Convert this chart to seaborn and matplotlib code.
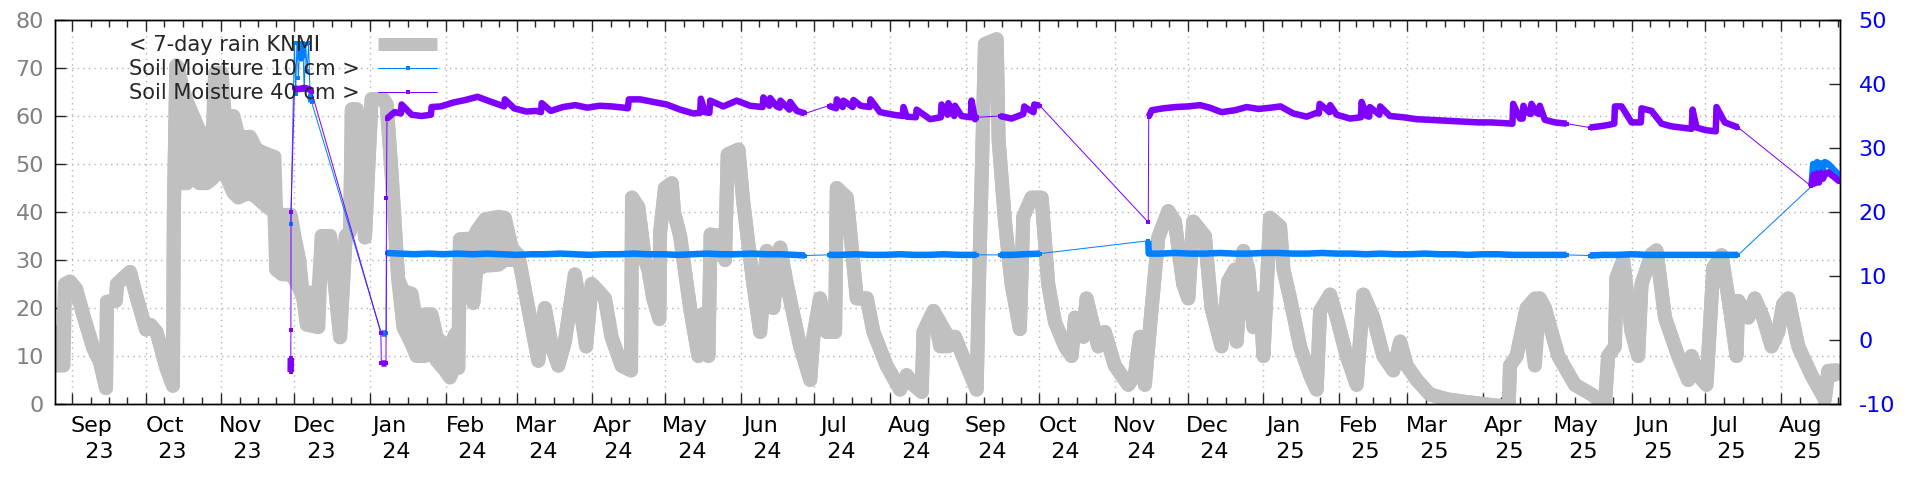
import numpy as np
import pandas as pd
import matplotlib
matplotlib.use("Agg")
import matplotlib.pyplot as plt
import matplotlib.dates as mdates
import matplotlib.transforms as mtrans
from matplotlib.lines import Line2D
from matplotlib.ticker import FixedLocator
import seaborn as sns

sns.set_style("white")
plt.rcParams["font.family"] = ["DejaVu Sans"]

# ---------------- data (day offsets are days after 2023-09-01) ----------------
ORIGIN = "2023-09-01"
X_START_DAY, X_END_DAY = -7.1, 724.2

# 7-day rain sum: upper value and (where the trace swings) lower value per vertex
rain_day = [-7.1, -3.6, -3.0, -1.0, 1.5, 4.5, 8.6, 11.3, 13.8, 14.2, 17.8, 18.3, 21.5, 23.6, 26.5, 30.2,
            32.0, 34.5, 38.6, 41.2, 41.6, 42.6, 43.5, 45.0, 47.0, 49.5, 52.0, 55.0, 57.5, 58.4, 61.2, 62.5,
            66.0, 68.0, 70.0, 72.8, 75.5, 80.0, 82.8, 83.5, 86.0, 89.5, 91.0, 93.0, 94.6, 96.0, 100.8, 102.2,
            105.6, 109.7, 112.0, 113.8, 114.5, 116.5, 119.9, 122.6, 127.4, 128.8, 130.8, 133.5, 135.6, 139.0,
            141.0, 144.5, 147.2, 149.3, 152.7, 154.7, 156.8, 158.2, 158.8, 163.2, 164.3, 165.6, 169.1, 174.5,
            177.2, 180.0, 182.7, 186.8, 190.9, 193.6, 196.4, 199.1, 201.8, 205.9, 208.7, 210.5, 212.8, 218.2,
            220.9, 225.0, 228.9, 229.3, 231.9, 234.6, 236.0, 238.0, 240.5, 240.8, 242.8, 245.6, 246.5, 249.0,
            253.1, 256.5, 258.2, 260.6, 261.5, 265.4, 267.4, 268.5, 272.9, 274.9, 279.0, 281.8, 284.5, 287.2,
            290.0, 292.7, 298.2, 302.3, 303.6, 306.3, 309.1, 312.5, 313.2, 317.3, 321.4, 325.5, 328.2, 333.6,
            339.1, 341.8, 344.6, 348.0, 348.7, 352.8, 355.5, 358.9, 361.6, 366.4, 370.5, 371.2, 373.9, 378.7,
            379.5, 382.1, 384.8, 388.2, 389.6, 393.0, 397.1, 399.8, 402.6, 406.7, 409.4, 410.8, 414.2, 415.5,
            420.3, 423.0, 427.1, 432.6, 435.3, 437.4, 439.4, 442.2, 444.9, 449.0, 451.7, 455.1, 457.2, 459.2,
            464.0, 466.7, 470.8, 473.6, 476.3, 477.0, 479.8, 481.8, 483.9, 486.6, 488.0, 490.7, 494.8, 496.2,
            498.9, 503.0, 507.1, 509.8, 511.2, 515.3, 518.0, 522.1, 526.2, 528.9, 533.0, 537.1, 541.2, 544.0,
            546.7, 550.8, 556.2, 563.1, 569.9, 578.1, 586.3, 588.5, 589.0, 591.7, 595.8, 599.2, 601.2, 603.3,
            608.8, 615.6, 622.4, 627.9, 629.2, 632.0, 632.6, 635.4, 638.8, 641.5, 642.9, 647.0, 649.0, 652.5,
            657.9, 662.0, 663.4, 666.1, 669.5, 672.3, 675.7, 679.1, 681.8, 682.5, 686.6, 689.3, 692.7, 696.2,
            698.9, 700.9, 703.0, 707.1, 712.5, 718.0, 719.4, 722.8, 724.2]
rain_hi = [15, 15, 25, 25.5, 24, 18.5, 11.6, 8.8, 3.3, 21.3, 21.5, 25, 26.5, 27.5, 22, 15.5,
           16.5, 15, 7.4, 3.8, 40, 70.5, 70, 66, 63, 60, 57, 56, 56, 69, 69, 60,
           60, 56, 55.5, 55.7, 53, 52, 51.5, 39.7, 39.4, 39.4, 35, 30, 22, 23.2, 23.2, 35,
           35, 13.9, 35, 36, 61.4, 61.4, 34.7, 63.5, 63.5, 62.4, 48, 26, 23.5, 23,
           17, 18.7, 18.7, 14, 12, 12, 14.5, 12, 34.3, 34.5, 34, 36, 38.5, 39,
           38.8, 32.6, 31, 20, 9, 20, 12, 8, 13, 27, 18, 12, 25, 22,
           14, 8, 7, 43, 41, 30, 28, 22, 17.7, 35.7, 45, 46, 40, 35,
           20, 10, 18.7, 10, 35.3, 35, 30, 52, 53, 42, 25, 15, 31.9, 20,
           32.6, 25, 12, 5, 14, 22, 15, 15, 45, 43, 22, 22, 15, 8,
           3, 6, 4, 2.5, 15, 19.4, 17, 14, 14, 8, 3, 20, 75, 76,
           55, 38, 25, 15.6, 39, 43, 43, 25, 17, 12, 10, 18, 14, 22,
           12, 15, 8, 4, 6, 14, 4, 20, 34.7, 40.2, 38, 25, 22, 38,
           35, 20, 12, 25.6, 28, 13, 31.9, 28, 16, 22, 10, 38.8, 37, 28,
           22, 12, 6, 3, 19.4, 22.8, 18, 10, 4, 22.8, 18, 10, 7, 13,
           8, 5, 2, 1, 0.5, 0, -0.5, 0, 8, 10, 20, 22, 22, 20,
           10, 4, 2, 0, 10, 12, 26.3, 30, 15, 10, 25, 31.2, 32, 18,
           10, 5, 10, 6, 4, 28.4, 31, 20, 10, 21.5, 18, 22, 18, 12,
           15, 20.8, 22, 12, 6, 1, 6.9, 7, 5]
rain_lo = [8, 8, None, None, None, None, None, None, None, None, None, None, None, None, None, None,
           None, None, None, None, None, None, 58, 46, 46, 48, 46, 46, 47, 48, 48, 48,
           44, 43, 43.5, 44, 43, 41, 40, 28, 27, 27, 26, 24, None, 16.5, 16, None,
           None, None, None, None, None, None, None, None, None, None, None, None, 16, 12.5,
           10, 10, 11, 9, 7, 5.5, 8, 7.5, None, 28, 21, 28, 28.8, 29,
           30, 30, None, None, None, None, None, None, None, None, None, None, None, None,
           None, None, None, None, None, None, None, None, None, None, None, None, None, None,
           None, None, None, None, None, None, None, None, None, None, None, None, None, None,
           None, None, None, None, None, None, None, None, None, None, None, None, None, None,
           None, None, None, None, None, None, 12, 12, None, None, None, None, None, None,
           None, None, None, None, None, None, None, None, None, None, None, None, None, None,
           None, None, None, None, None, None, None, None, None, None, None, None, None, None,
           None, None, None, None, None, None, None, None, None, None, None, None, None, None,
           None, None, None, None, None, None, None, None, None, None, None, None, None, None,
           None, None, None, None, None, None, None, None, None, None, None, 8, None, None,
           None, None, None, None, None, None, None, None, None, None, None, None, None, None,
           None, None, None, None, None, None, None, None, None, None, None, None, None, None,
           None, None, None, None, None, None, None, None, None]

sm10_day = [89.5, 91.0, 91.5, 92.0, 92.6, 93.2, 93.8, 94.4, 95.0, 95.6, 96.2, 96.8, 97.4, 98.0,
            126.6, 128.6, 128.8,
            134, 140, 146, 152, 158, 164, 170, 176, 182, 188, 194, 200, 206, 212, 218, 224, 230, 236,
            242, 248, 254, 260, 266, 272, 278, 284, 290, 296, 300.2,
            309.8, 315, 321, 327, 333, 339, 345, 351, 357, 363, 368, 370.5,
            380, 385, 390, 396.4,
            440.8, 441.0, 446, 452, 458, 464, 470, 476, 482, 488, 494, 500, 506, 512, 518, 524, 530, 536,
            542, 548, 554, 560, 566, 572, 578, 584, 590, 596, 602, 608, 612.2,
            621.7, 627, 633, 639, 645, 651, 657, 663, 669, 675, 682.5,
            712.5, 713.2, 714.0, 714.8, 715.6, 716.4, 717.2, 718.0, 719.4, 724.2]
sm10_val = [18.1, 46.4, 38.5, 46.4, 41.0, 46.4, 44.0, 46.4, 39.0, 46.2, 42.0, 46.4, 38.2, 37.2,
            1.1, 1.1, 13.6,
            13.5, 13.4, 13.5, 13.4, 13.5, 13.4, 13.5, 13.4, 13.3, 13.4, 13.4, 13.5, 13.4, 13.3, 13.4, 13.4, 13.5, 13.4,
            13.4, 13.3, 13.4, 13.5, 13.4, 13.4, 13.5, 13.4, 13.4, 13.3, 13.2,
            13.3, 13.3, 13.4, 13.3, 13.3, 13.4, 13.3, 13.3, 13.4, 13.3, 13.3, 13.3,
            13.3, 13.3, 13.4, 13.5,
            15.5, 13.5, 13.5, 13.6, 13.5, 13.5, 13.6, 13.5, 13.5, 13.6, 13.6, 13.5, 13.5, 13.6, 13.5, 13.5, 13.4, 13.5,
            13.4, 13.4, 13.5, 13.4, 13.4, 13.3, 13.4, 13.4, 13.3, 13.3, 13.3, 13.3, 13.3,
            13.2, 13.3, 13.3, 13.4, 13.3, 13.3, 13.3, 13.3, 13.3, 13.3, 13.3,
            24.0, 27.5, 25.6, 27.8, 26.2, 27.6, 26.8, 27.8, 27.5, 25.6]

sm40_day = [89.45, 89.5, 89.55, 89.6, 91.0, 93, 95, 97, 98.0,
            126.4, 126.6, 128.5, 128.7, 128.9,
            132, 134.6, 134.9, 139, 143, 146.9, 147.2, 151, 156, 161, 166, 171, 176.9, 177.2, 181, 186, 190,
            192.0, 192.3, 196, 201, 206, 211, 216, 221, 226, 227.6, 228, 232.6, 238, 243.5, 249, 254.4, 257.2,
            257.5, 259.2, 261.0, 261.3, 266.7, 272.2, 277.7, 282.8, 283.1, 285.6, 285.9, 288.6, 289.8, 290.1,
            293.8, 294.1, 296.8, 300.2,
            309.8, 312.9, 313.2, 315.6, 315.9, 319.7, 320.0, 323, 326.7, 327, 330.9, 336.4, 340.2, 340.5,
            341.8, 345.6, 345.9, 351.4, 355.8, 356.1, 358.6, 358.9, 361.3, 361.6, 364.3, 368.1, 368.4, 369.8,
            370.5,
            380, 384.8, 389.6, 390.0, 391, 393.8, 394.1, 396.4,
            440.8, 441.0,
            442.2, 447, 452, 457.2, 462, 466, 470.8, 476.3, 481.1, 486, 491, 495, 500.2, 505.7, 509.8, 510.7,
            511, 513.9, 515.0, 515.3, 518, 523.5, 527.9, 528.2, 530.3, 531.3, 531.6, 535.5, 535.8, 539.8,
            545.3, 550.8, 556, 561, 566, 571, 576, 581, 586, 590.0, 590.3, 593.1, 594.2, 594.5, 595.8, 597.5,
            597.8, 599.9, 600.9, 601.2, 603.3, 607.4, 612.2,
            621.7, 626, 629.2, 631.7, 632, 634.7, 638.8, 642.6, 642.9, 647, 651.1, 655, 659, 663.4, 663.8,
            665.4, 669, 673.3, 673.6, 677, 682.5,
            712.5, 713.3, 714.0, 714.8, 715.6, 716.4, 717.2, 718.2, 719.4, 724.2]
sm40_val = [-5.0, -2.8, 1.6, 20.0, 39.3, 39.2, 39.4, 39.2, 38.8,
            1.1, -3.6, -3.6, 22.2, 34.6,
            35.6, 35.4, 36.8, 35.2, 35.0, 35.2, 36.4, 36.5, 37.1, 37.5, 38.0, 37.3, 36.5, 37.6, 36.2, 35.7, 35.8,
            35.6, 37.0, 35.8, 36.4, 36.7, 36.3, 36.6, 36.5, 36.3, 36.2, 37.6, 37.6, 37.2, 36.8, 36.0, 35.4, 35.5,
            37.7, 35.6, 35.5, 37.4, 36.5, 37.4, 36.6, 36.4, 37.9, 36.6, 37.8, 36.5, 36.3, 37.4,
            36.0, 37.2, 35.8, 35.4,
            36.6, 36.2, 37.6, 36.4, 37.4, 36.4, 37.5, 36.6, 36.4, 37.6, 35.6, 35.2, 35.0, 36.4,
            34.9, 34.8, 36.0, 34.5, 34.8, 36.8, 35.2, 37.0, 35.0, 36.6, 35.0, 34.8, 37.4, 34.5,
            34.8,
            35.0, 34.6, 35.3, 36.5, 36.2, 35.6, 36.8, 36.6,
            18.4, 34.9,
            35.9, 36.2, 36.4, 36.5, 36.7, 36.3, 35.6, 35.9, 36.4, 36.1, 36.3, 36.5, 35.4, 34.9, 35.5, 35.4,
            36.9, 36.0, 35.6, 36.7, 35.2, 34.6, 34.8, 37.2, 35.0, 34.9, 36.4, 35.2, 36.5, 35.0,
            34.8, 34.5, 34.4, 34.3, 34.2, 34.1, 34.0, 34.0, 33.9, 33.8, 36.9, 34.6, 34.6, 36.6, 35.6, 35.3,
            36.9, 35.5, 35.3, 36.6, 34.4, 34.0, 33.8,
            33.2, 33.4, 33.6, 33.8, 36.5, 36.5, 34.0, 34.0, 36.2, 35.8, 33.8, 33.4, 33.2, 33.0, 36.0,
            33.2, 32.8, 32.6, 36.4, 34.0, 33.2,
            24.0, 25.8, 24.5, 26.0, 24.6, 26.1, 25.2, 26.0, 26.2, 24.7]

legend_labels = ["< 7-day rain KNMI", "Soil Moisture 10 cm >", "Soil Moisture 40 cm >"]
left_ticks = [0, 10, 20, 30, 40, 50, 60, 70, 80]
right_ticks = [-10, 0, 10, 20, 30, 40, 50]

# ---------------- styles ----------------
GRAY = "#c0c0c0"
BLUE = "#0080ff"
PURPLE = "#8000ff"
PX = 0.72  # points per pixel at dpi 100
RAIN_LW = 14 * PX


def to_dates(days):
    return pd.Timestamp(ORIGIN) + pd.to_timedelta(np.asarray(days, dtype=float), unit="D")


def band_frame(days, vals, max_gap=8.0, max_jump=4.0):
    seg, s = [], 0
    for i in range(len(days)):
        if i > 0 and (days[i] - days[i - 1] > max_gap or abs(vals[i] - vals[i - 1]) > max_jump):
            s += 1
        seg.append(s)
    return pd.DataFrame({"date": to_dates(days), "v": vals, "seg": seg})


fig = plt.figure(figsize=(19.2, 4.8), dpi=100)
ax = fig.add_axes([55 / 1920, 76 / 480, 1785 / 1920, 384 / 480])
ax2 = ax.twinx()

# rain (left axis): upper and lower trace with the swing between them filled
r_dates = to_dates(rain_day)
r_hi = np.array(rain_hi, dtype=float)
r_lo = np.array([h if l is None else l for h, l in zip(rain_hi, rain_lo)], dtype=float)
ax.fill_between(r_dates, r_lo, r_hi, color=GRAY, linewidth=0, zorder=2)
for trace in (r_hi, r_lo):
    sns.lineplot(x=r_dates, y=trace, ax=ax, color=GRAY, linewidth=RAIN_LW, sort=False,
                 estimator=None, solid_capstyle="butt", zorder=2)

# soil moisture (right axis)
for days, vals, col in [(sm10_day, sm10_val, BLUE), (sm40_day, sm40_val, PURPLE)]:
    df = band_frame(days, vals)
    sns.lineplot(data=df, x="date", y="v", units="seg", estimator=None, sort=False, ax=ax2,
                 color=col, linewidth=6.5 * PX, legend=False, solid_capstyle="butt")
    sns.lineplot(x=to_dates(days), y=vals, ax=ax2, color=col, linewidth=1.0 * PX, sort=False,
                 estimator=None, marker="s", markersize=4 * PX, markeredgewidth=0)

# axes limits
ax.set_xlim(to_dates([X_START_DAY])[0], to_dates([X_END_DAY])[0])
ax.set_ylim(0, 80)
ax2.set_ylim(-10, 50)
ax.set_xlabel("")
ax.set_ylabel("")
ax2.set_ylabel("")

# x ticks: month starts, quarter-month minor ticks
months = pd.date_range("2023-09-01", "2025-08-01", freq="MS")
ax.set_xticks(months)
ax.tick_params(axis="x", labelbottom=False)
minor = []
mstarts = pd.date_range("2023-08-01", "2025-09-01", freq="MS")
for a, b in zip(mstarts[:-1], mstarts[1:]):
    for k in (1, 2, 3):
        minor.append(mdates.date2num(a + (b - a) * k / 4))
ax.xaxis.set_minor_locator(FixedLocator(minor))

lab_tr = mtrans.blended_transform_factory(ax.transData, ax.transAxes) + \
    mtrans.ScaledTranslation(19.5 / 100, -12.5 / 100, fig.dpi_scale_trans)
for m in months:
    ax.text(mdates.date2num(m), 0, m.strftime("%b") + "\n  " + m.strftime("%y"),
            transform=lab_tr, ha="center", va="top", ma="center", fontsize=16,
            linespacing=1.36, color="black", clip_on=False)

ax.tick_params(axis="x", which="major", direction="in", length=8, width=1, top=True, bottom=True)
ax.tick_params(axis="x", which="minor", direction="in", length=5, width=1, top=True, bottom=True)

ax.set_yticks(left_ticks)
ax.tick_params(axis="y", direction="in", length=8, width=1, left=True, right=False,
               labelsize=16, labelcolor="#808080", pad=8)
ax2.set_yticks(right_ticks)
ax2.set_yticklabels([str(t) for t in right_ticks])
ax2.tick_params(axis="y", direction="in", length=8, width=1, right=True, left=False,
                labelsize=16, labelcolor="#0000ff", pad=13.5)

# grid
ax.set_axisbelow(True)
ax.grid(True, which="major", axis="both", color="#b4b4b4", linestyle=(0, (1, 3)), linewidth=1.0)

for a in (ax, ax2):
    for sp in a.spines.values():
        sp.set_color("black")
        sp.set_linewidth(1.0)

# legend: left-aligned texts, samples in a column to their right
fs_px = 21
leg_y = 1 - 35 / 480
common = dict(loc="upper left", bbox_transform=fig.transFigure, frameon=False,
              fontsize=fs_px * PX, borderpad=0, borderaxespad=0, labelspacing=0.2, numpoints=1)
blank = [Line2D([], [], linewidth=0) for _ in legend_labels]
leg_text = ax2.legend(blank, legend_labels, bbox_to_anchor=(129 / 1920, leg_y),
                      handlelength=0, handletextpad=0, **common)
ax2.add_artist(leg_text)
handles = [
    Line2D([], [], color=GRAY, linewidth=13 * PX, solid_capstyle="butt"),
    Line2D([], [], color=BLUE, linewidth=1.0 * PX, marker="s", markersize=4 * PX, markeredgewidth=0),
    Line2D([], [], color=PURPLE, linewidth=1.0 * PX, marker="s", markersize=4 * PX, markeredgewidth=0),
]
ax2.legend(handles, [" "] * 3, bbox_to_anchor=(378 / 1920, leg_y),
           handlelength=59 / fs_px, handletextpad=0, **common)

fig.savefig("out.png", dpi=100)
